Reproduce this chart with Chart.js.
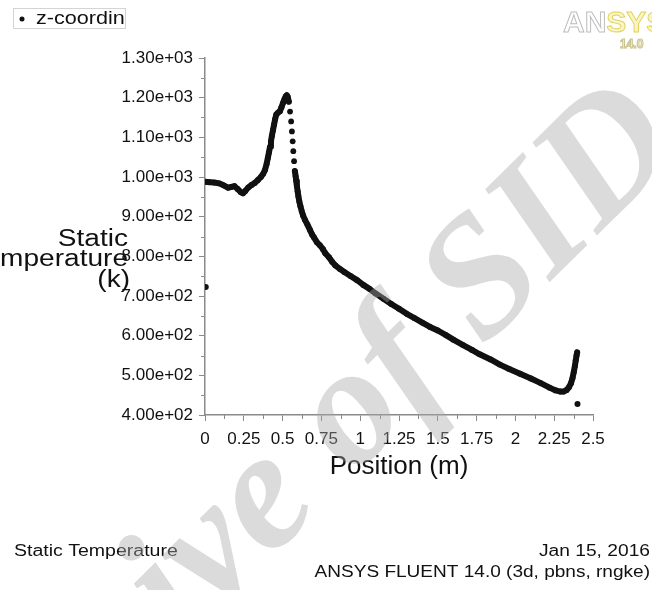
<!DOCTYPE html>
<html>
<head>
<meta charset="utf-8">
<script src="https://cdn.jsdelivr.net/npm/chart.js@4.4.1/dist/chart.umd.min.js"></script>
<style>
  html, body { margin: 0; padding: 0; background: #fff; }
  canvas { display: block; }
</style>
</head>
<body>
<canvas id="tempChart" width="652" height="590"></canvas>
<script>
// position (m) along the line
var positions = [
  0.00, 0.03, 0.06, 0.09, 0.12, 0.15, 0.17, 0.19, 0.21, 0.23, 0.245, 0.26, 0.28, 0.30, 0.32,
  0.34, 0.36, 0.375, 0.387, 0.397, 0.405, 0.412, 0.419, 0.425, 0.431, 0.438, 0.445, 0.452, 0.46,
  0.47, 0.483, 0.493, 0.503, 0.512, 0.52, 0.527, 0.533, 0.54,
  0.548, 0.555, 0.56, 0.565, 0.569, 0.574, 0.579,
  0.584, 0.588, 0.592, 0.597, 0.602, 0.608, 0.615, 0.623, 0.632, 0.644, 0.66, 0.677, 0.69, 0.70,
  0.72, 0.74, 0.76, 0.775, 0.80, 0.82, 0.84, 0.87, 0.90, 0.94, 0.98, 1.02, 1.06, 1.10, 1.15,
  1.20, 1.25, 1.30, 1.35, 1.40, 1.45, 1.50, 1.55, 1.60, 1.66, 1.72, 1.77, 1.84, 1.90, 1.96,
  2.03, 2.10, 2.16, 2.22, 2.26, 2.29, 2.31, 2.33, 2.345, 2.358, 2.368, 2.376, 2.383, 2.389,
  2.394, 2.398
];
// static temperature (K)
var temps = [
  988, 987, 986, 984, 979, 973, 975, 977, 970, 962, 959, 965, 974, 980, 985,
  992, 1000, 1008, 1018, 1033, 1048, 1062, 1076, 1090, 1104, 1118, 1132, 1146, 1158,
  1162, 1166, 1176, 1187, 1196, 1203, 1206, 1202, 1190,
  1165, 1140, 1115, 1090, 1065, 1040, 1015,
  1002, 990, 977, 964, 951, 938, 926, 914, 903, 892, 880, 866, 855, 849,
  836, 828, 818, 808, 797, 786, 777, 768, 760, 750, 740, 728, 718, 706, 693,
  680, 668, 655, 644, 633, 622, 613, 602, 590, 577, 564, 553, 540, 527, 516,
  504, 492, 481, 469, 462, 459, 459, 463, 470, 480, 493, 508, 523, 538,
  550, 558
];
// two isolated points at the ends of the line
var loosePositions = [0.005, 2.40];
var looseTemps = [723, 428];

var xTickValues = [0, 0.25, 0.5, 0.75, 1, 1.25, 1.5, 1.75, 2, 2.25, 2.5];
var xTickLabels = ['0', '0.25', '0.5', '0.75', '1', '1.25', '1.5', '1.75', '2', '2.25', '2.5'];
var yTickValues = [400, 500, 600, 700, 800, 900, 1000, 1100, 1200, 1300];
var yTickLabels = ['4.00e+02', '5.00e+02', '6.00e+02', '7.00e+02', '8.00e+02',
                   '9.00e+02', '1.00e+03', '1.10e+03', '1.20e+03', '1.30e+03'];

var FONT = "'Liberation Sans', Arial, sans-serif";
var AXIS = '#8a8a8a';
var INK = '#111';

function stretchText(ctx, text, x, y, size, align, sx) {
    ctx.save();
    ctx.font = size + 'px ' + FONT;
    ctx.textBaseline = 'middle';
    ctx.textAlign = 'left';
    var w = ctx.measureText(text).width * sx;
    var left = align === 'right' ? x - w : (align === 'center' ? x - w / 2 : x);
    ctx.translate(left, y);
    ctx.scale(sx, 1);
    ctx.fillText(text, 0, 0);
    ctx.restore();
}

// minor ticks half way between the labelled ones
var minorTicks = {
    id: 'minorTicks',
    afterDraw: function (chart) {
        var ctx = chart.ctx, xs = chart.scales.x, ys = chart.scales.y;
        ctx.save();
        ctx.strokeStyle = AXIS;
        ctx.lineWidth = 1;
        ctx.beginPath();
        for (var i = 0; i < xTickValues.length - 1; i++) {
            var px = Math.round(xs.getPixelForValue((xTickValues[i] + xTickValues[i + 1]) / 2)) + 0.5;
            ctx.moveTo(px, xs.top);
            ctx.lineTo(px, xs.top + 4);
        }
        for (var j = 0; j < yTickValues.length - 1; j++) {
            var py = Math.round(ys.getPixelForValue((yTickValues[j] + yTickValues[j + 1]) / 2)) + 0.5;
            ctx.moveTo(ys.right, py);
            ctx.lineTo(ys.right - 4, py);
        }
        ctx.stroke();
        ctx.restore();
    }
};

// page furniture of the fluent report: y title, legend stub, logo, footer, watermark
var furniture = {
    id: 'furniture',
    afterDraw: function (chart) {
        var ctx = chart.ctx;
        ctx.save();
        ctx.fillStyle = INK;
        stretchText(ctx, 'Static', 128, 240, 23, 'right', 1.22);
        stretchText(ctx, 'Temperature', 128, 260, 23, 'right', 1.22);
        stretchText(ctx, '(k)', 130, 281, 23, 'right', 1.22);

        // legend stub, cut off at its right edge
        ctx.strokeStyle = '#d4d4d4';
        ctx.lineWidth = 1;
        ctx.strokeRect(13.5, 8.5, 112, 20);
        ctx.save();
        ctx.beginPath();
        ctx.rect(14, 9, 111, 19);
        ctx.clip();
        ctx.beginPath();
        ctx.arc(22, 19, 2.5, 0, Math.PI * 2);
        ctx.fill();
        stretchText(ctx, 'z-coordinate', 36, 19, 18, 'left', 1.2);
        ctx.restore();

        // logo
        ctx.font = 'bold 30px ' + FONT;
        ctx.textBaseline = 'alphabetic';
        ctx.textAlign = 'left';
        ctx.lineWidth = 1;
        ctx.strokeStyle = '#bdbdbd';
        ctx.strokeText('AN', 563, 32);
        var wAN = ctx.measureText('AN').width;
        ctx.strokeStyle = '#e2d35a';
        ctx.fillStyle = 'rgba(240,225,90,0.35)';
        ctx.fillText('SYS', 563 + wAN, 32);
        ctx.strokeText('SYS', 563 + wAN, 32);
        ctx.font = 'bold 12px ' + FONT;
        ctx.strokeStyle = '#c9c08a';
        ctx.strokeText('14.0', 620, 48);

        // footer
        ctx.fillStyle = INK;
        stretchText(ctx, 'Static Temperature', 14, 552, 16, 'left', 1.22);
        stretchText(ctx, 'Jan 15, 2016', 650, 552, 16, 'right', 1.2);
        stretchText(ctx, 'ANSYS FLUENT 14.0 (3d, pbns, rngke)', 650, 573, 16, 'right', 1.19);

        // watermark
        ctx.translate(372, 396);
        ctx.rotate(-0.78);
        ctx.font = "bold italic 170px 'Liberation Serif', serif";
        ctx.textBaseline = 'middle';
        ctx.textAlign = 'left';
        var off = ctx.measureText('Archive ').width + ctx.measureText('of').width / 2;
        ctx.fillStyle = 'rgba(170,170,170,0.42)';
        ctx.fillText('Archive of SID', -off, 0);
        ctx.restore();
    }
};

new Chart(document.getElementById('tempChart').getContext('2d'), {
    type: 'scatter',
    data: {
        datasets: [{
            label: 'z-coordinate',
            data: positions.map(function (p, i) { return { x: p, y: temps[i] }; }),
            showLine: true,
            borderColor: INK,
            borderWidth: 6,
            borderCapStyle: 'round',
            borderJoinStyle: 'round',
            backgroundColor: INK,
            pointRadius: 2.9,
            pointBorderWidth: 0,
            segment: {
                // the steep drop after the peak is drawn as loose dots
                borderColor: function (c) { return Math.abs(c.p1.y - c.p0.y) > 8 ? 'rgba(0,0,0,0)' : INK; }
            }
        }, {
            label: 'ends',
            data: loosePositions.map(function (p, i) { return { x: p, y: looseTemps[i] }; }),
            showLine: false,
            backgroundColor: INK,
            pointRadius: 3,
            pointBorderWidth: 0
        }]
    },
    options: {
        responsive: false,
        animation: false,
        events: [],
        layout: { padding: { top: 58, right: 59, left: 0, bottom: 0 } },
        plugins: { legend: { display: false }, tooltip: { enabled: false } },
        scales: {
            x: {
                type: 'linear', min: 0, max: 2.5,
                afterBuildTicks: function (s) { s.ticks = xTickValues.map(function (v) { return { value: v }; }); },
                afterFit: function (s) { s.height = 175; },
                ticks: {
                    callback: function (v, i) { return xTickLabels[i]; },
                    color: INK, font: { family: FONT, size: 17 }, padding: 8,
                    maxRotation: 0, autoSkip: false
                },
                grid: { drawOnChartArea: false, tickLength: 6, tickColor: AXIS, tickWidth: 1 },
                border: { color: AXIS, width: 1.5 },
                title: {
                    display: true, text: 'Position (m)', color: INK,
                    font: { family: FONT, size: 26 }, padding: { top: 0, bottom: 108 }
                }
            },
            y: {
                type: 'linear', min: 400, max: 1300,
                afterBuildTicks: function (s) { s.ticks = yTickValues.map(function (v) { return { value: v }; }); },
                afterFit: function (s) { s.width = 205; },
                ticks: {
                    callback: function (v, i) { return yTickLabels[i]; },
                    color: INK, font: { family: FONT, size: 17 }, padding: 6
                },
                grid: { drawOnChartArea: false, tickLength: 6, tickColor: AXIS, tickWidth: 1 },
                border: { color: AXIS, width: 1.5 }
            }
        }
    },
    plugins: [minorTicks, furniture]
});
</script>
</body>
</html>
